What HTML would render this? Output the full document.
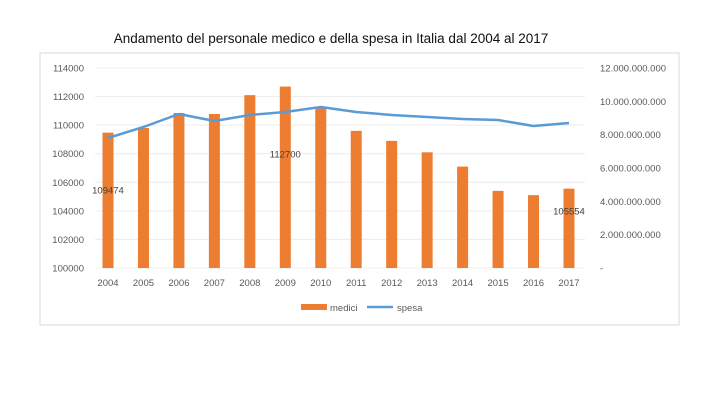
<!DOCTYPE html>
<html><head><meta charset="utf-8"><style>
body{margin:0;background:#fff;width:720px;height:400px;overflow:hidden;font-family:"Liberation Sans",sans-serif}
</style></head><body>
<svg id="chart" width="720" height="400">
<text x="331" y="43" text-anchor="middle" font-size="13.5" fill="#111">Andamento del personale medico e della spesa in Italia dal 2004 al 2017</text>
<rect x="40" y="53" width="639" height="272" fill="none" stroke="#d9d9d9"/>
<g id="grid"></g><g id="bars"></g><g id="line"></g><g id="axes"></g>
<g>
<rect x="301" y="304" width="26" height="6" fill="#ed7d31"/>
<text x="330" y="311" font-size="9.5" fill="#595959">medici</text>
<line x1="367" y1="307" x2="393" y2="307" stroke="#5b9bd5" stroke-width="2.5"/>
<text x="397" y="311" font-size="9.5" fill="#595959">spesa</text>
</g>
</svg>
<script>
const years=["2004","2005","2006","2007","2008","2009","2010","2011","2012","2013","2014","2015","2016","2017"];
const medici=[109474,109800,110850,110780,112100,112700,111200,109600,108900,108100,107100,105400,105100,105554];
const spesa=[7.8e9,8.46e9,9.24e9,8.82e9,9.18e9,9.36e9,9.66e9,9.36e9,9.18e9,9.06e9,8.94e9,8.88e9,8.52e9,8.7e9];
const leftTicks=[100000,102000,104000,106000,108000,110000,112000,114000];
const rightTicks=["-","2.000.000.000","4.000.000.000","6.000.000.000","8.000.000.000","10.000.000.000","12.000.000.000"];
const labelIdx=[0,5,13];
const labelOffsets=[61,71,26];
const NS="http://www.w3.org/2000/svg";
const plotTop=68,plotBot=268,x0=108,step=35.46;
const yL=v=>plotBot-(v-100000)/14000*(plotBot-plotTop);
const yR=v=>plotBot-v/12e9*(plotBot-plotTop);
const xC=i=>x0+i*step;
function mk(t,a,p){const e=document.createElementNS(NS,t);for(const k in a)e.setAttribute(k,a[k]);document.getElementById(p).appendChild(e);return e;}
leftTicks.forEach((v,i)=>{
 const g=mk('line',{x1:95,x2:585,y1:yL(v),y2:yL(v),stroke:'#ececec'},'grid');
 
 
 const t=mk('text',{x:84,y:yL(v)+3.5,'text-anchor':'end','font-size':'9.5',fill:'#595959'},'axes');
 t.textContent=v;
 
 
});
rightTicks.forEach((s,i)=>{
 const t=mk('text',{x:600,y:yR(i*2e9)+3.5,'font-size':'9.5',fill:'#595959'},'axes');
 t.textContent=s;
 
 
});
years.forEach((y,i)=>{
 const t=mk('text',{x:xC(i),y:286,'text-anchor':'middle','font-size':'9.5',fill:'#595959'},'axes');
 t.textContent=y;
 
 
 const b=mk('rect',{x:xC(i)-5.5,y:yL(medici[i]),width:11,height:plotBot-yL(medici[i]),fill:'#ed7d31'},'bars');
 
 
});
labelIdx.forEach((i,k)=>{
 const t=mk('text',{x:xC(i),y:yL(medici[i])+labelOffsets[k],'text-anchor':'middle','font-size':'9.5',fill:'#404040'},'bars');
 t.textContent=medici[i];
 
 
});
const l=mk('polyline',{points:spesa.map((v,i)=>xC(i)+','+yR(v)).join(' '),fill:'none',stroke:'#5b9bd5','stroke-width':2.5,'stroke-linejoin':'round'},'line');


</script>
</body></html>
